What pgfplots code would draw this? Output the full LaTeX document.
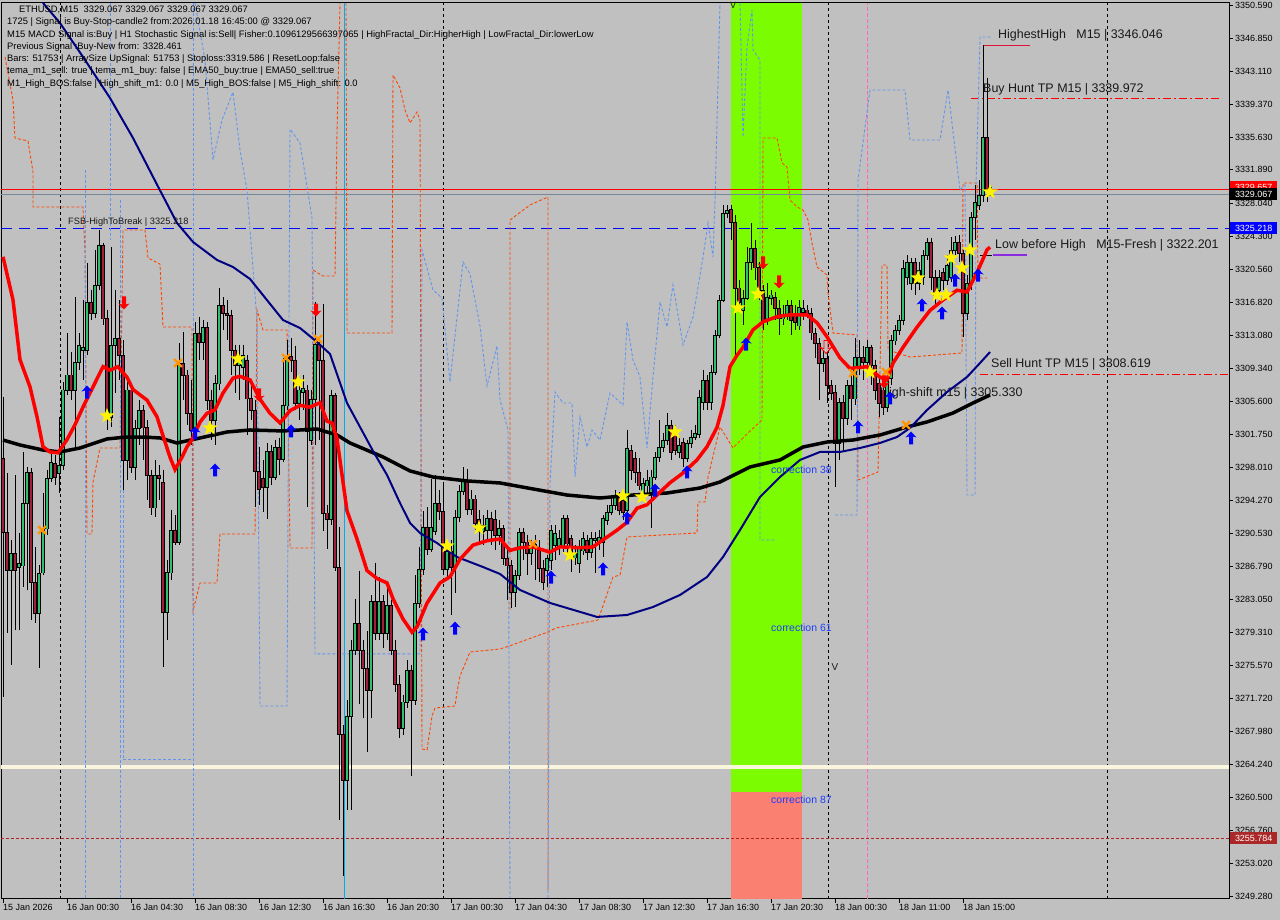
\documentclass[border=0pt]{standalone}
\usepackage{fontspec}
\setmainfont{Liberation Sans}
\usepackage{pgfplots}
\pgfplotsset{compat=1.18}
\usepackage{pgfplotstable}

\definecolor{bg}{RGB}{192,192,192}
\definecolor{bull}{RGB}{50,190,110}
\definecolor{bear}{RGB}{160,32,60}
\definecolor{lgreen}{RGB}{124,252,0}
\definecolor{salmonc}{RGB}{250,128,114}
\definecolor{navyc}{RGB}{0,0,128}
\definecolor{ored}{RGB}{255,69,0}
\definecolor{cflower}{RGB}{100,149,237}
\definecolor{cream}{RGB}{250,246,222}
\definecolor{brownred}{RGB}{178,34,34}
\definecolor{tagbrown}{RGB}{170,40,40}
\definecolor{pinkc}{RGB}{255,105,180}
\definecolor{xorange}{RGB}{255,150,0}
\definecolor{graylinec}{RGB}{119,136,153}
\definecolor{purplec}{RGB}{138,43,226}
\definecolor{crimsonc}{RGB}{220,20,60}
\definecolor{txt}{RGB}{25,25,25}
\definecolor{corrblue}{RGB}{30,60,255}

\pgfdeclareplotmark{ystar}{%
\pgfpathmoveto{\pgfpoint{0bp}{8bp}}%
\pgfpathlineto{\pgfpoint{1.94bp}{2.67bp}}%
\pgfpathlineto{\pgfpoint{7.61bp}{2.47bp}}%
\pgfpathlineto{\pgfpoint{3.14bp}{-1.02bp}}%
\pgfpathlineto{\pgfpoint{4.70bp}{-6.47bp}}%
\pgfpathlineto{\pgfpoint{0bp}{-3.3bp}}%
\pgfpathlineto{\pgfpoint{-4.70bp}{-6.47bp}}%
\pgfpathlineto{\pgfpoint{-3.14bp}{-1.02bp}}%
\pgfpathlineto{\pgfpoint{-7.61bp}{2.47bp}}%
\pgfpathlineto{\pgfpoint{-1.94bp}{2.67bp}}%
\pgfpathclose\pgfusepathqfill}
\pgfdeclareplotmark{uarr}{%
\pgfpathmoveto{\pgfpoint{0bp}{6.5bp}}%
\pgfpathlineto{\pgfpoint{-5.5bp}{0.5bp}}%
\pgfpathlineto{\pgfpoint{-2bp}{1.5bp}}%
\pgfpathlineto{\pgfpoint{-2bp}{-6.5bp}}%
\pgfpathlineto{\pgfpoint{2bp}{-6.5bp}}%
\pgfpathlineto{\pgfpoint{2bp}{1.5bp}}%
\pgfpathlineto{\pgfpoint{5.5bp}{0.5bp}}%
\pgfpathclose\pgfusepathqfill}
\pgfdeclareplotmark{darr}{%
\pgfpathmoveto{\pgfpoint{0bp}{-6.5bp}}%
\pgfpathlineto{\pgfpoint{-5.5bp}{-0.5bp}}%
\pgfpathlineto{\pgfpoint{-2bp}{-1.5bp}}%
\pgfpathlineto{\pgfpoint{-2bp}{6.5bp}}%
\pgfpathlineto{\pgfpoint{2bp}{6.5bp}}%
\pgfpathlineto{\pgfpoint{2bp}{-1.5bp}}%
\pgfpathlineto{\pgfpoint{5.5bp}{-0.5bp}}%
\pgfpathclose\pgfusepathqfill}
\pgfdeclareplotmark{darro}{%
\pgfpathmoveto{\pgfpoint{0bp}{-6.5bp}}%
\pgfpathlineto{\pgfpoint{-5.5bp}{-0.5bp}}%
\pgfpathlineto{\pgfpoint{-2bp}{-1.5bp}}%
\pgfpathlineto{\pgfpoint{-2bp}{6.5bp}}%
\pgfpathlineto{\pgfpoint{2bp}{6.5bp}}%
\pgfpathlineto{\pgfpoint{2bp}{-1.5bp}}%
\pgfpathlineto{\pgfpoint{5.5bp}{-0.5bp}}%
\pgfpathclose\pgfusepathqstroke}

\newcommand{\tf}{\fontsize{9}{10}\selectfont}
\newcommand{\infofont}{\fontsize{9.4}{10}\selectfont}
\newcommand{\bigf}{\fontsize{12.5}{14}\selectfont}

% bullish candles: x open high low close
\pgfplotstableread{
x o h l c
11 3286.4 3289.8 3275.6 3288.3
19 3286.7 3290.6 3279.5 3287.2
23 3286.9 3299.8 3284.4 3294.0
27 3294.0 3298.1 3284.1 3297.5
39 3281.5 3286.9 3275.2 3286.0
43 3286.1 3295.1 3285.8 3291.1
47 3291.1 3297.8 3290.4 3296.8
51 3296.8 3300.0 3296.4 3298.7
59 3297.4 3303.8 3295.1 3298.3
63 3298.3 3307.8 3297.8 3306.9
67 3306.9 3313.3 3306.3 3308.6
75 3306.9 3317.4 3300.4 3310.0
79 3310.0 3313.3 3309.1 3312.0
83 3311.4 3317.1 3308.0 3311.7
87 3311.4 3321.3 3310.8 3316.9
95 3315.6 3322.8 3315.0 3318.8
99 3318.8 3325.1 3318.2 3323.3
111 3303.8 3323.1 3302.6 3312.0
115 3312.0 3318.2 3306.5 3312.8
127 3298.9 3308.0 3296.6 3306.9
135 3298.1 3303.4 3296.6 3302.5
139 3302.5 3305.7 3300.6 3304.6
155 3293.5 3298.9 3292.4 3297.2
167 3281.6 3287.5 3278.4 3286.1
171 3286.1 3293.2 3285.2 3290.9
179 3289.6 3312.2 3289.2 3309.9
195 3302.3 3314.6 3301.7 3313.3
203 3312.3 3314.8 3310.3 3314.0
215 3303.4 3308.6 3300.6 3307.6
219 3307.6 3318.5 3306.9 3316.5
239 3309.7 3312.0 3305.7 3310.5
243 3309.5 3312.0 3308.0 3310.8
267 3295.8 3300.8 3292.2 3299.9
275 3297.0 3301.2 3296.6 3300.4
283 3299.0 3310.5 3298.7 3305.1
287 3305.1 3312.5 3304.6 3310.7
299 3305.4 3308.0 3303.4 3306.9
303 3306.6 3308.6 3304.6 3307.1
311 3301.2 3306.9 3300.6 3305.8
315 3305.8 3316.9 3300.6 3312.1
331 3292.2 3306.9 3291.5 3306.3
347 3262.5 3271.6 3259.1 3269.8
351 3269.8 3278.4 3259.1 3277.3
355 3277.3 3283.1 3276.7 3280.3
371 3272.7 3283.5 3269.5 3282.8
379 3279.2 3285.6 3278.4 3282.8
387 3279.2 3284.4 3278.4 3282.4
403 3268.4 3272.2 3267.6 3271.4
407 3271.4 3276.1 3270.7 3275.0
415 3271.6 3285.8 3271.0 3282.6
419 3282.6 3289.0 3282.1 3286.5
423 3286.5 3293.1 3285.8 3291.3
431 3288.8 3296.7 3288.4 3291.3
435 3290.8 3297.2 3290.4 3294.0
447 3286.5 3289.2 3285.2 3288.5
455 3286.7 3293.2 3283.8 3292.4
459 3292.4 3296.0 3291.8 3295.4
463 3295.4 3298.1 3294.9 3296.5
471 3293.3 3295.5 3292.6 3294.5
483 3290.8 3292.6 3289.2 3291.5
487 3290.9 3293.2 3289.8 3292.3
499 3290.4 3292.1 3289.2 3291.1
515 3283.9 3286.4 3282.2 3285.8
519 3285.8 3291.1 3285.2 3290.7
531 3288.3 3289.8 3286.9 3289.2
535 3288.9 3290.4 3285.2 3289.3
547 3286.4 3288.1 3284.4 3287.7
551 3287.5 3291.5 3286.4 3290.9
555 3289.2 3291.5 3287.5 3290.6
559 3289.0 3290.9 3288.1 3290.0
563 3289.0 3292.6 3288.4 3292.3
575 3287.8 3289.2 3286.9 3288.3
579 3287.2 3289.8 3286.0 3288.9
583 3288.6 3290.7 3288.1 3290.0
591 3288.4 3290.7 3287.7 3290.0
595 3289.8 3290.7 3286.0 3290.0
599 3289.6 3290.9 3288.6 3290.1
603 3289.6 3292.6 3287.8 3292.3
607 3292.1 3293.8 3291.5 3293.0
611 3293.0 3294.6 3292.6 3293.8
615 3293.8 3295.5 3293.2 3294.9
627 3293.2 3302.3 3293.0 3300.2
643 3295.1 3296.8 3294.3 3296.3
647 3296.0 3297.8 3294.9 3296.6
651 3295.1 3297.8 3291.1 3297.0
655 3297.0 3299.8 3296.6 3299.2
659 3299.2 3303.4 3298.7 3300.4
663 3300.4 3302.0 3299.8 3301.2
667 3301.2 3304.2 3300.6 3302.9
679 3299.8 3301.4 3299.1 3300.6
687 3299.1 3301.2 3298.7 3300.8
691 3300.8 3302.3 3300.2 3301.5
695 3301.5 3302.9 3301.2 3301.9
699 3301.9 3306.9 3301.4 3306.0
703 3305.5 3309.1 3304.6 3308.0
711 3305.5 3309.7 3304.6 3308.9
715 3308.9 3313.7 3308.6 3313.1
719 3313.1 3317.6 3312.8 3317.1
723 3317.1 3327.9 3316.9 3327.0
727 3327.0 3327.9 3326.4 3327.3
743 3316.0 3318.2 3314.2 3317.3
747 3317.3 3323.1 3317.1 3321.4
751 3321.4 3325.8 3320.5 3323.0
767 3314.8 3319.0 3314.2 3317.4
771 3317.3 3318.2 3316.5 3317.7
783 3315.0 3316.5 3314.2 3315.4
787 3315.4 3317.1 3314.8 3316.5
799 3314.2 3317.1 3313.7 3316.3
803 3315.7 3317.1 3314.8 3316.2
823 3309.9 3311.4 3308.9 3310.5
839 3300.8 3305.9 3298.9 3305.5
847 3303.7 3308.0 3302.9 3307.4
855 3305.9 3312.8 3305.1 3310.6
859 3309.5 3312.5 3308.6 3310.6
867 3310.0 3312.5 3309.1 3311.7
887 3304.9 3309.1 3304.4 3308.2
891 3308.2 3313.1 3307.4 3312.5
895 3312.5 3314.2 3312.0 3313.7
899 3313.7 3315.4 3313.1 3314.8
903 3314.8 3321.6 3314.2 3320.7
907 3319.7 3322.2 3318.8 3321.4
911 3319.0 3321.9 3318.2 3321.4
919 3319.0 3321.4 3318.2 3320.5
923 3319.7 3322.8 3318.8 3322.2
927 3322.2 3324.1 3321.6 3323.7
939 3318.2 3320.5 3317.1 3319.7
947 3319.4 3322.2 3318.8 3321.1
951 3319.7 3324.2 3319.1 3322.8
955 3322.8 3324.4 3322.2 3323.7
967 3315.6 3319.9 3314.8 3319.0
971 3319.0 3327.1 3318.2 3326.5
975 3326.5 3330.2 3323.9 3328.2
979 3327.9 3330.7 3327.3 3329.0
983 3329.0 3346.05 3328.2 3335.6
}\bulls

% bearish candles: x open high low close
\pgfplotstableread{
x o h l c
3 3299.1 3306.1 3271.9 3290.7
7 3290.7 3297.4 3279.2 3286.4
15 3288.3 3297.2 3279.5 3286.4
31 3297.5 3298.0 3280.7 3285.0
35 3285.0 3289.0 3280.3 3281.5
55 3298.5 3299.5 3296.0 3297.0
71 3308.6 3311.2 3305.7 3306.9
91 3316.9 3318.2 3314.8 3315.6
103 3323.3 3323.6 3314.2 3315.0
107 3315.0 3316.0 3302.3 3303.8
119 3312.8 3317.1 3308.0 3310.8
123 3310.8 3312.5 3295.5 3298.9
131 3306.9 3307.4 3297.4 3298.1
143 3304.6 3305.1 3298.9 3302.6
147 3302.6 3303.4 3294.3 3297.2
151 3297.2 3297.8 3292.6 3293.5
159 3297.2 3298.3 3294.3 3296.8
163 3296.4 3297.8 3275.3 3281.6
175 3290.9 3292.6 3289.2 3289.6
183 3309.9 3313.5 3305.7 3308.6
187 3308.6 3309.1 3302.9 3304.2
191 3304.2 3308.0 3300.6 3302.3
199 3313.3 3315.2 3310.3 3312.3
207 3314.0 3314.6 3304.6 3305.7
211 3305.7 3306.9 3301.2 3303.4
223 3316.5 3317.4 3313.7 3315.6
227 3315.6 3317.1 3312.5 3315.4
231 3315.4 3316.0 3308.6 3311.4
235 3311.4 3312.0 3306.5 3309.7
247 3310.3 3310.8 3301.7 3305.9
251 3305.9 3307.4 3303.4 3304.6
255 3304.6 3305.7 3293.5 3297.6
259 3297.6 3300.4 3293.8 3295.6
263 3296.8 3298.9 3293.0 3295.8
271 3299.9 3300.6 3296.0 3297.0
279 3300.4 3301.4 3297.2 3299.0
291 3310.7 3312.8 3308.9 3310.3
295 3310.3 3311.9 3304.6 3305.4
307 3306.9 3307.4 3293.5 3302.2
319 3312.1 3312.5 3301.2 3310.3
323 3310.3 3316.6 3290.8 3292.9
327 3292.9 3293.8 3288.8 3292.2
335 3306.3 3306.5 3286.3 3286.7
339 3286.7 3291.3 3257.9 3267.7
343 3267.7 3268.7 3251.6 3262.5
359 3280.3 3286.3 3271.1 3277.3
363 3277.3 3278.4 3269.5 3275.2
367 3275.2 3279.4 3265.7 3272.7
375 3282.8 3287.2 3278.4 3279.2
383 3282.8 3283.5 3277.5 3279.2
391 3282.4 3283.0 3276.7 3277.3
395 3277.3 3278.4 3272.5 3273.4
399 3273.4 3274.4 3267.3 3268.4
411 3275.0 3275.6 3262.9 3271.6
427 3291.3 3293.5 3288.1 3288.8
439 3294.0 3295.5 3292.1 3293.1
443 3293.1 3296.3 3285.8 3286.5
451 3288.5 3289.8 3281.2 3286.7
467 3296.5 3297.9 3292.6 3293.3
475 3294.5 3294.9 3290.9 3291.7
479 3292.2 3293.2 3289.2 3290.8
491 3292.3 3293.0 3289.2 3290.9
495 3292.2 3293.2 3288.6 3290.4
503 3291.1 3291.5 3286.9 3287.7
507 3287.7 3288.9 3283.0 3286.9
511 3286.9 3287.5 3282.1 3283.9
523 3290.7 3291.1 3287.5 3289.6
527 3289.6 3290.4 3285.8 3288.3
539 3288.6 3289.8 3285.0 3286.6
543 3286.6 3287.5 3284.1 3285.0
567 3292.3 3292.6 3287.5 3289.4
571 3290.0 3290.4 3286.1 3287.8
587 3289.8 3290.4 3287.5 3288.4
619 3294.9 3295.2 3292.6 3293.2
623 3294.3 3294.9 3292.1 3293.0
631 3300.0 3300.6 3296.6 3297.8
635 3299.1 3299.8 3296.3 3297.5
639 3297.5 3299.1 3295.5 3296.0
671 3302.9 3303.4 3298.9 3299.8
675 3302.3 3302.9 3299.5 3300.0
683 3300.9 3301.4 3298.1 3299.1
707 3308.0 3308.6 3304.6 3305.5
731 3327.4 3327.9 3323.9 3326.0
735 3326.0 3326.8 3310.3 3318.5
739 3318.5 3319.4 3316.0 3316.9
755 3323.0 3323.9 3319.4 3320.8
759 3320.8 3321.4 3317.1 3318.2
763 3318.2 3318.8 3313.7 3314.8
775 3317.4 3318.0 3314.8 3316.2
779 3316.2 3317.1 3313.1 3315.0
791 3316.5 3317.1 3313.1 3314.8
795 3315.4 3316.5 3313.7 3314.6
807 3316.0 3316.5 3315.0 3315.6
811 3315.6 3316.2 3312.5 3313.4
815 3313.3 3313.9 3310.5 3312.2
819 3312.2 3312.8 3305.7 3309.9
827 3310.5 3311.2 3305.4 3307.4
831 3307.4 3308.0 3305.7 3306.5
835 3306.6 3307.4 3295.8 3300.8
843 3305.5 3306.3 3300.0 3303.7
851 3307.4 3308.6 3303.4 3305.9
863 3310.6 3311.9 3308.0 3310.0
871 3311.7 3312.0 3307.4 3309.7
875 3309.7 3310.3 3305.7 3306.9
879 3307.6 3308.2 3303.8 3305.4
883 3306.9 3307.4 3304.0 3304.9
915 3321.4 3321.9 3317.7 3319.0
931 3323.7 3324.1 3318.2 3319.7
935 3319.7 3320.5 3316.5 3317.7
943 3320.3 3320.7 3318.2 3319.4
959 3323.7 3324.5 3321.4 3322.4
963 3322.4 3322.8 3312.9 3315.6
987 3335.6 3342.4 3328.2 3329.6
991 3329.6 3330.0 3328.9 3329.067
}\bears

\pgfplotsset{
  wick/.style={draw=none, no marks, forget plot, error bars/.cd, y dir=minus, y explicit, error mark=none, error bar style={draw=black, solid, line width=1bp}},
  bodyout/.style={draw=none, no marks, forget plot, error bars/.cd, y dir=minus, y explicit, error mark=none, error bar style={draw=black, solid, line width=3.4bp}},
  bodyin/.style={draw=none, no marks, forget plot, error bars/.cd, y dir=minus, y explicit, error mark=none, error bar style={draw=#1, solid, line width=1.4bp}},
}

\begin{document}
\begin{tikzpicture}[x=1bp,y=1bp]
\useasboundingbox (0,0) rectangle (1280,920);
\fill[bg] (0,0) rectangle (1280,920);
\begin{axis}[
  at={(1bp,21bp)}, anchor=south west, scale only axis,
  width=1228bp, height=896bp,
  xmin=1, xmax=1229, ymin=3248.94, ymax=3350.88,
  axis background/.style={fill=bg},
  axis line style={black, line width=1bp},
  tick align=outside, major tick length=4bp,
  tick style={black, line width=0.8bp},
  xtick pos=bottom, ytick pos=right, yticklabel pos=right,
  xtick={3,67,131,195,259,323,387,451,515,579,643,707,771,835,899,963},
  xticklabels={15 Jan 2026,16 Jan 00:30,16 Jan 04:30,16 Jan 08:30,16 Jan 12:30,16 Jan 16:30,16 Jan 20:30,17 Jan 00:30,17 Jan 04:30,17 Jan 08:30,17 Jan 12:30,17 Jan 16:30,17 Jan 20:30,18 Jan 00:30,18 Jan 11:00,18 Jan 15:00},
  ytick={3350.59,3346.85,3343.11,3339.37,3335.63,3331.89,3328.04,3324.30,3320.56,3316.82,3313.08,3309.34,3305.60,3301.75,3298.01,3294.27,3290.53,3286.79,3283.05,3279.31,3275.57,3271.72,3267.98,3264.24,3260.50,3256.76,3253.02,3249.28},
  yticklabels={3350.590,3346.850,3343.110,3339.370,3335.630,3331.890,3328.040,3324.300,3320.560,3316.820,3313.080,3309.340,3305.600,3301.750,3298.010,3294.270,3290.530,3286.790,3283.050,3279.310,3275.570,3271.720,3267.980,3264.240,3260.500,3256.760,3253.020,3249.280},
  ticklabel style={font=\tf, inner sep=0pt, text=black},
  xticklabel style={anchor=north west, yshift=-1bp},
  yticklabel style={anchor=west, xshift=2bp},
  /pgf/number format/assume math mode=true,
  clip mode=individual,
]
% zones
\addplot[draw=none, fill=lgreen, forget plot] coordinates {(731,3261.11) (802,3261.11) (802,3350.88) (731,3350.88)} -- cycle;
\addplot[draw=none, fill=salmonc, forget plot] coordinates {(731,3248.94) (802,3248.94) (802,3261.11) (731,3261.11)} -- cycle;
% vertical separators
\addplot[black, line width=1bp, dash pattern=on 3bp off 3bp, forget plot] coordinates {(60,3248.94) (60,3350.88)};
\addplot[black, line width=1bp, dash pattern=on 3bp off 3bp, forget plot] coordinates {(443,3248.94) (443,3350.88)};
\addplot[black, line width=1bp, dash pattern=on 3bp off 3bp, forget plot] coordinates {(828,3248.94) (828,3350.88)};
\addplot[black, line width=1bp, dash pattern=on 3bp off 3bp, forget plot] coordinates {(1107,3248.94) (1107,3350.88)};
\addplot[cyan, line width=1bp, forget plot] coordinates {(344,3248.94) (344,3350.88)};
\addplot[pinkc, line width=1bp, dash pattern=on 4bp off 2bp, forget plot] coordinates {(867,3248.94) (867,3350.88)};
% horizontal levels
\addplot[cream, line width=4bp, forget plot] coordinates {(1,3264.0) (1229,3264.0)};
\addplot[brownred, line width=1bp, dash pattern=on 3bp off 2bp, forget plot] coordinates {(1,3255.784) (1229,3255.784)};
\addplot[red, line width=1bp, forget plot] coordinates {(1,3329.657) (1229,3329.657)};
\addplot[graylinec, line width=1bp, forget plot] coordinates {(1,3329.067) (1229,3329.067)};
\addplot[blue, line width=1.3bp, dash pattern=on 11bp off 7bp, forget plot] coordinates {(1,3325.218) (1229,3325.218)};
\addplot[red, line width=1bp, dash pattern=on 8bp off 3bp on 2bp off 3bp, forget plot] coordinates {(971,3339.972) (1222,3339.972)};
\addplot[red, line width=1bp, dash pattern=on 8bp off 3bp on 2bp off 3bp, forget plot] coordinates {(980,3308.619) (1228,3308.619)};
\addplot[crimsonc, line width=1.2bp, forget plot] coordinates {(983,3346.046) (1030,3346.046)};
\addplot[black, line width=1bp, forget plot] coordinates {(980,3322.201) (992,3322.201)};
\addplot[purplec, line width=1.2bp, forget plot] coordinates {(993,3322.201) (1027,3322.201)};
% fractal channel lines (orange)
\addplot[ored, line width=0.9bp, dash pattern=on 3bp off 2bp, forget plot] coordinates {(5,3344.74) (13,3339.84) (15,3335.52) (28,3335.18) (33,3331.65) (33,3327.67) (83,3327.67) (85,3322.44) (87,3290.47) (92,3290.47) (93,3296.38) (100,3300.25) (120,3300.25) (123,3325.05) (145,3325.05) (148,3321.87) (160,3321.18) (163,3314.02) (192,3314.02) (193,3281.71) (200,3284.89) (217,3284.89) (220,3290.47) (255,3290.47) (257,3315.95) (263,3313.68) (287,3313.68) (290,3288.87) (312,3288.87) (313,3320.50) (323,3319.82) (335,3319.82) (337,3336.20) (340,3350.88)};
\addplot[ored, line width=0.9bp, dash pattern=on 3bp off 2bp, forget plot] coordinates {(346,3350.88) (347,3313.33) (392,3313.33) (393,3342.69) (400,3341.21) (405,3338.71) (410,3337.23) (417,3338.48) (420,3337.57) (422,3266.01) (427,3265.89) (432,3269.76) (435,3270.67) (455,3270.90) (457,3272.49) (460,3274.31) (470,3277.04) (500,3277.38) (512,3277.84) (548,3279.32) (556,3279.77) (598,3280.68) (613,3285.57) (620,3285.80) (627,3290.13) (697,3290.58) (698,3294.11) (705,3294.11) (708,3296.95) (720,3302.64) (733,3300.25) (748,3301.96) (762,3303.44) (763,3335.52) (777,3335.52) (782,3332.68) (787,3332.22) (790,3328.47) (797,3327.67) (803,3327.33) (808,3326.19) (812,3323.57) (817,3320.84) (827,3319.93) (828,3317.89) (833,3313.33) (857,3313.11) (858,3296.61) (878,3297.52) (882,3321.07) (887,3321.07) (888,3311.40) (910,3310.60) (962,3311.06) (963,3330.40) (977,3330.40) (978,3319.59) (987,3319.59)};
\addplot[ored, line width=0.9bp, dash pattern=on 3bp off 2bp, forget plot] coordinates {(510,3281.82) (510,3326.19) (530,3327.90) (548,3328.81) (548,3249.96)};
% cornflower lines
\addplot[cflower, line width=0.9bp, dash pattern=on 3bp off 2bp, forget plot] coordinates {(85,3331.88) (85,3249.06)};
\addplot[cflower, line width=0.9bp, dash pattern=on 3bp off 2bp, forget plot] coordinates {(120,3328.47) (120,3249.06)};
\addplot[cflower, line width=0.9bp, dash pattern=on 3bp off 2bp, forget plot] coordinates {(110,3350.88) (110,3323.91)};
\addplot[cflower, line width=0.9bp, dash pattern=on 3bp off 2bp, forget plot] coordinates {(193,3350.88) (193,3249.06)};
\addplot[cflower, line width=0.9bp, dash pattern=on 3bp off 2bp, forget plot] coordinates {(123,3311.97) (123,3264.76) (192,3264.76)};
\addplot[cflower, line width=0.9bp, dash pattern=on 3bp off 2bp, forget plot] coordinates {(195,3350.88) (205,3344.39) (213,3333.02) (222,3337.57) (233,3340.75) (240,3334.15) (247,3329.60) (257,3314.70) (260,3270.90) (287,3270.90) (290,3336.54) (300,3334.95) (312,3326.42) (315,3276.82) (420,3276.82) (422,3322.78) (433,3318.23) (442,3317.32) (450,3307.76) (463,3321.41) (470,3320.05) (480,3314.13) (487,3307.31) (497,3311.86) (500,3305.71) (508,3302.30) (510,3249.06)};
\addplot[cflower, line width=0.9bp, dash pattern=on 3bp off 2bp, forget plot] coordinates {(548,3249.06) (550,3296.27) (555,3306.62) (563,3305.37) (572,3305.37) (575,3296.95) (580,3303.78) (587,3300.36) (592,3302.30) (600,3301.16) (610,3306.51) (623,3305.14) (627,3314.59) (633,3310.26) (640,3308.33) (647,3300.25) (653,3308.33) (660,3316.86) (667,3314.02) (673,3318.80) (683,3311.97) (693,3315.15) (703,3321.98) (708,3325.85) (713,3321.98) (715,3328.47) (720,3350.88)};
\addplot[cflower, line width=0.9bp, dash pattern=on 3bp off 2bp, forget plot] coordinates {(740,3350.88) (743,3335.63) (747,3345.87) (752,3350.08) (753,3345.53) (760,3344.39) (760,3289.78) (775,3289.78)};
\addplot[cflower, line width=0.9bp, dash pattern=on 3bp off 2bp, forget plot] coordinates {(835,3292.63) (857,3292.63) (858,3330.74) (870,3340.98) (905,3340.98) (910,3335.29) (940,3335.29) (948,3340.98) (960,3329.60) (965,3330.17) (967,3294.90) (975,3294.90) (976,3330.17) (980,3347.01) (992,3347.01)};
% text behind candles
\node[anchor=west, font=\bigf, text=txt, inner sep=0pt] at (axis cs:880,3306.51) {High-shift m15 | 3305.330};
% candles: wicks
\addplot[wick] table[x=x, y=h, y error minus expr={\thisrow{h}-\thisrow{l}}] {\bulls};
\addplot[wick] table[x=x, y=h, y error minus expr={\thisrow{h}-\thisrow{l}}] {\bears};
% bodies
\addplot[bodyout] table[x=x, y=c, y error minus expr={\thisrow{c}-\thisrow{o}+0.12}] {\bulls};
\addplot[bodyout] table[x=x, y=o, y error minus expr={\thisrow{o}-\thisrow{c}+0.12}] {\bears};
\addplot[bodyin=bull] table[x=x, y expr={\thisrow{c}-0.1}, y error minus expr={\thisrow{c}-\thisrow{o}-0.08}] {\bulls};
\addplot[bodyin=bear] table[x=x, y expr={\thisrow{o}-0.1}, y error minus expr={\thisrow{o}-\thisrow{c}-0.08}] {\bears};
% moving averages
\addplot[black, line width=3.5bp, forget plot] coordinates {(3,3301.16) (20,3300.59) (43,3300.02) (60,3299.80) (80,3300.25) (107,3301.28) (127,3301.50) (143,3301.50) (160,3301.39) (177,3300.82) (200,3301.39) (227,3302.07) (250,3302.30) (283,3302.19) (317,3302.41) (337,3301.73) (350,3300.82) (383,3299.23) (410,3297.64) (433,3296.95) (467,3296.50) (500,3296.27) (533,3295.59) (567,3294.90) (600,3294.56) (633,3294.90) (667,3295.13) (700,3295.70) (720,3296.38) (740,3297.52) (750,3298.09) (780,3298.89) (803,3300.36) (827,3300.93) (853,3301.16) (880,3301.73) (907,3302.64) (927,3303.21) (953,3304.23) (973,3305.37) (990,3306.28)};
\addplot[navyc, line width=2bp, forget plot] coordinates {(43,3350.88) (60,3348.60) (83,3344.74) (110,3340.07) (133,3335.52) (158,3330.0) (177,3325.85) (193,3323.69) (217,3321.64) (233,3320.84) (250,3319.48) (283,3314.81) (300,3313.90) (317,3312.31) (330,3310.95) (347,3305.37) (360,3302.64) (373,3299.91) (387,3297.18) (400,3293.99) (410,3291.72) (420,3290.58) (437,3289.44) (457,3287.85) (483,3286.71) (500,3285.92) (520,3284.10) (550,3282.62) (597,3281.03) (627,3281.25) (653,3282.16) (680,3283.53) (707,3285.57) (723,3287.85) (740,3290.92) (760,3294.68) (780,3296.95) (800,3298.89) (820,3299.80) (840,3299.80) (860,3300.25) (880,3300.82) (897,3301.50) (910,3302.53) (927,3304.57) (947,3306.62) (967,3308.33) (980,3309.92) (990,3311.17)};
\addplot[red, line width=3.5bp, forget plot] coordinates {(3,3322.0) (13,3317.1) (20,3310.3) (30,3307.2) (37,3303.8) (43,3300.4) (50,3299.8) (58,3299.7) (67,3301.2) (75,3302.9) (83,3304.9) (93,3307.2) (103,3309.5) (110,3309.1) (118,3309.5) (127,3308.3) (133,3306.9) (147,3305.7) (157,3303.8) (162,3302.0) (170,3299.2) (175,3297.8) (182,3299.2) (187,3300.4) (192,3301.2) (200,3303.2) (207,3304.2) (215,3304.6) (223,3306.5) (233,3308.2) (240,3308.4) (250,3308.0) (260,3305.8) (270,3304.2) (280,3303.1) (290,3304.5) (300,3305.1) (310,3304.9) (320,3305.4) (327,3303.3) (332,3303.1) (337,3301.3) (342,3297.2) (347,3293.1) (357,3289.9) (367,3286.3) (377,3285.4) (387,3284.9) (393,3283.1) (403,3280.8) (412,3279.3) (417,3279.9) (427,3282.6) (440,3284.9) (450,3285.6) (460,3287.6) (473,3289.2) (487,3289.7) (500,3289.9) (510,3288.6) (520,3288.9) (533,3289.0) (550,3288.4) (560,3289.0) (580,3288.9) (593,3289.0) (603,3289.8) (617,3290.9) (627,3291.8) (637,3293.4) (647,3293.8) (657,3294.9) (670,3296.3) (683,3297.4) (697,3298.9) (707,3300.4) (717,3302.6) (723,3305.1) (730,3309.5) (737,3310.8) (743,3311.7) (753,3313.7) (763,3314.6) (777,3315.2) (790,3315.4) (807,3315.4) (817,3314.5) (827,3312.9) (840,3310.5) (850,3309.3) (867,3309.5) (880,3308.3) (887,3308.0) (893,3309.9) (903,3311.7) (917,3314.0) (930,3315.9) (943,3317.1) (957,3318.2) (967,3318.0) (977,3320.2) (987,3322.8) (990,3323.1)};
% signal markers
\addplot[only marks, mark=x, mark size=5.5bp, xorange, mark options={line width=2.2bp}, forget plot] coordinates {(42,3290.92) (178,3309.92) (286,3310.49) (318,3312.65) (533,3289.33) (853,3308.78) (886,3308.90) (906,3302.87)};
\addplot[only marks, mark=ystar, yellow, forget plot] coordinates {(107,3303.9) (210,3302.53) (238,3310.38) (298,3307.76) (447,3289.10) (479,3291.15) (570,3288.08) (623,3294.79) (642,3294.68) (675,3302.07) (738,3316.18) (758,3317.77) (870,3308.90) (918,3319.59) (937,3317.66) (946,3317.66) (951,3321.87) (962,3320.73) (970,3322.78) (990,3329.38)};
\addplot[only marks, mark=uarr, blue, forget plot] coordinates {(87,3306.62) (195,3301.96) (215,3297.75) (291,3302.19) (423,3279.09) (455,3279.77) (551,3285.57) (603,3286.49) (627,3292.29) (655,3295.47) (687,3297.52) (746,3312.08) (858,3302.64) (890,3305.94) (911,3301.39) (922,3316.52) (942,3315.61) (955,3319.36) (978,3319.93)};
\addplot[only marks, mark=darr, red, forget plot] coordinates {(124,3316.75) (259,3306.28) (316,3315.95) (763,3321.30) (779,3319.14) (884,3307.76)};
\addplot[only marks, mark=darro, red, mark options={line width=0.8bp}, forget plot] coordinates {(826,3311.74)};
\end{axis}
% info text
\begin{scope}[every node/.style={anchor=west, inner sep=0pt, font=\infofont, text=black}]
\node at (19,910) {ETHUSD,M15\ \ 3329.067 3329.067 3329.067 3329.067};
\node at (7,898) {1725 | Signal is Buy-Stop-candle2 from:2026.01.18 16:45:00 @ 3329.067};
\node at (7,885) {M15 MACD Signal is:Buy | H1 Stochastic Signal is:Sell| Fisher:0.1096129566397065 | HighFractal\_Dir:HigherHigh | LowFractal\_Dir:lowerLow};
\node at (7,873) {Previous Signal :Buy-New from: 3328.461};
\node at (7,861) {Bars: 51753 | ArraySize UpSignal: 51753 | Stoploss:3319.586 | ResetLoop:false};
\node at (7,849) {tema\_m1\_sell: true | tema\_m1\_buy: false | EMA50\_buy:true | EMA50\_sell:true};
\node at (7,836) {M1\_High\_BOS:false | High\_shift\_m1: 0.0 | M5\_High\_BOS:false | M5\_High\_shift: 0.0};
\end{scope}
% annotations
\begin{scope}[every node/.style={anchor=west, inner sep=0pt, font=\bigf, text=txt}]
\node at (998,885) {HighestHigh\ \ \ M15 | 3346.046};
\node at (983,831) {Buy Hunt TP M15 | 3339.972};
\node at (995,675) {Low before High\ \ \ M15-Fresh | 3322.201};
\node at (991,556) {Sell Hunt TP M15 | 3308.619};
\end{scope}
\node[anchor=west, inner sep=0pt, font=\fontsize{9.3}{11}\selectfont, text=txt] at (68,698) {FSB-HighToBreak | 3325.218};
\begin{scope}[every node/.style={anchor=west, inner sep=0pt, font=\fontsize{10.5}{12}\selectfont, text=corrblue}]
\node at (771,450) {correction 38};
\node at (771,292) {correction 61};
\node at (771,120) {correction 87};
\end{scope}
\node[anchor=north, inner sep=0pt, font=\fontsize{9}{10}\selectfont, text=txt] at (733,918) {V};
\node[anchor=center, inner sep=0pt, font=\fontsize{10}{11}\selectfont, text=txt] at (835,253) {V};
% price tags
\begin{scope}[every node/.style={anchor=west, inner sep=0pt, minimum width=47bp, minimum height=12bp, font=\tf, text=white}]
\node[fill=red] at (1230,733) {3329.657};
\node[fill=black] at (1230,726) {3329.067};
\node[fill=blue] at (1230,692) {3325.218};
\node[fill=tagbrown] at (1230,82) {3255.784};
\end{scope}
\end{tikzpicture}
\end{document}
